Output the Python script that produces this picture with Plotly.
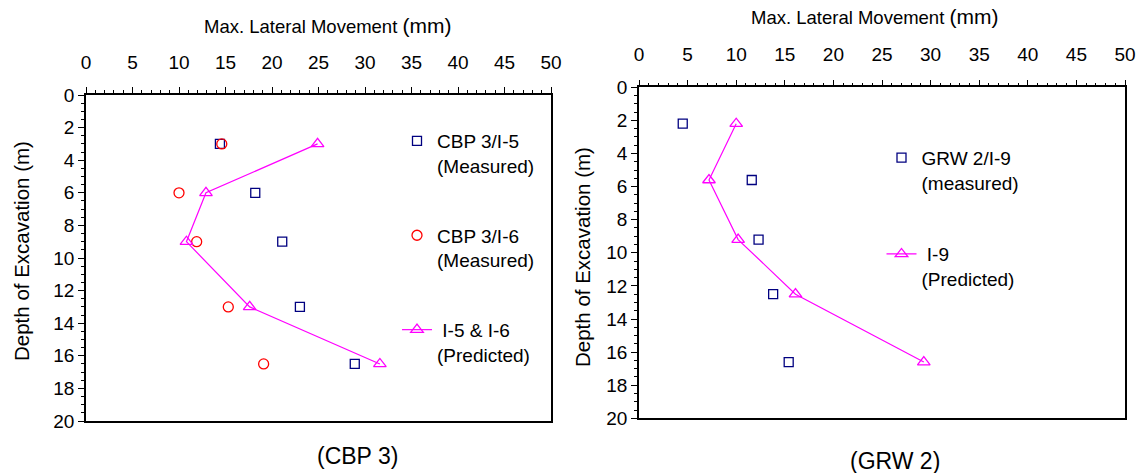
import plotly.graph_objects as go

# ---------------- data ----------------
# CBP 3 (left panel)
cbp_i5_x = [14.4, 18.2, 21.1, 23.0, 28.9]
cbp_i5_y = [3.0, 6.0, 9.0, 13.0, 16.5]
cbp_i6_x = [14.6, 10.0, 11.9, 15.3, 19.1]
cbp_i6_y = [3.0, 6.0, 9.0, 13.0, 16.5]
cbp_pred_x = [24.9, 12.9, 10.8, 17.6, 31.6]
cbp_pred_y = [3.0, 6.0, 9.0, 13.0, 16.5]

# GRW 2 (right panel)
grw_meas_x = [4.5, 11.6, 12.3, 13.8, 15.4]
grw_meas_y = [2.2, 5.6, 9.2, 12.5, 16.6]
grw_pred_x = [10.0, 7.2, 10.2, 16.1, 29.3]
grw_pred_y = [2.2, 5.6, 9.2, 12.5, 16.6]

# labels
x_title = 'Max. Lateral Movement <span style="font-size:21px">(mm)</span>'
y_title = 'Depth of Excavation (m)'
panel_labels = ['(CBP 3)', '(GRW 2)']

# ---------------- styling ----------------
FONT = 'Liberation Sans, Arial, sans-serif'
W, H = 1145, 473
BLUE = '#000080'
RED = '#FF0000'
MAG = '#FF00FF'

def px_x(p):
    return p / W

def px_y(p):
    return 1 - p / H

fig = go.Figure()

sq = dict(symbol='square-open', size=9, color=BLUE, line=dict(width=1.3, color=BLUE))
ci = dict(symbol='circle-open', size=10, color=RED, line=dict(width=1.3, color=RED))
tr = dict(symbol='triangle-up-open', size=11, color=MAG, line=dict(width=1.3, color=MAG))

fig.add_trace(go.Scatter(x=cbp_i5_x, y=cbp_i5_y, mode='markers', marker=sq,
                         name='CBP 3/I-5<br>(Measured)', legend='legend', legendgroup='a',
                         xaxis='x', yaxis='y'))
fig.add_trace(go.Scatter(x=cbp_i6_x, y=cbp_i6_y, mode='markers', marker=ci,
                         name='CBP 3/I-6<br>(Measured)', legend='legend', legendgroup='b',
                         xaxis='x', yaxis='y'))
fig.add_trace(go.Scatter(x=cbp_pred_x, y=cbp_pred_y, mode='lines+markers', marker=tr,
                         line=dict(color=MAG, width=1.2),
                         name='&nbsp;I-5 &amp; I-6<br>(Predicted)', legend='legend', legendgroup='c',
                         xaxis='x', yaxis='y'))

fig.add_trace(go.Scatter(x=grw_meas_x, y=grw_meas_y, mode='markers', marker=sq,
                         name='GRW 2/I-9<br>(measured)', legend='legend2', legendgroup='d',
                         xaxis='x2', yaxis='y2'))
fig.add_trace(go.Scatter(x=grw_pred_x, y=grw_pred_y, mode='lines+markers', marker=tr,
                         line=dict(color=MAG, width=1.2),
                         name='&nbsp;I-9<br>(Predicted)', legend='legend2', legendgroup='e',
                         xaxis='x2', yaxis='y2'))

tickfont = dict(family=FONT, size=19, color='black')

def xax(domain, anchor):
    return dict(domain=domain, anchor=anchor, side='top', range=[0, 50], automargin=False,
                dtick=5, tick0=0, ticks='outside', ticklen=6, tickwidth=1.3, tickcolor='black',
                minor=dict(dtick=1, ticks='outside', ticklen=3, tickwidth=1, tickcolor='black'),
                showline=True, linecolor='black', linewidth=1.6, mirror=True,
                showgrid=False, zeroline=False, tickfont=tickfont, ticklabelstandoff=11,
                fixedrange=True)

def yax(domain, anchor):
    return dict(domain=domain, anchor=anchor, range=[20, 0], automargin=False,
                dtick=2, tick0=0, ticks='outside', ticklen=6, tickwidth=1.3, tickcolor='black',
                minor=dict(dtick=0.5, ticks='outside', ticklen=3, tickwidth=1, tickcolor='black'),
                showline=True, linecolor='black', linewidth=1.6, mirror=True,
                showgrid=False, zeroline=False, tickfont=tickfont, fixedrange=True)

legfont = dict(family=FONT, size=19, color='black')

fig.update_layout(
    template='none',
    width=W, height=H, autosize=False,
    margin=dict(l=0, r=0, t=0, b=0, pad=0, autoexpand=False),
    paper_bgcolor='white', plot_bgcolor='white',
    showlegend=True,
    xaxis=xax([px_x(86), px_x(551)], 'y'),
    yaxis=yax([px_y(421), px_y(95)], 'x'),
    xaxis2=xax([px_x(639), px_x(1125)], 'y2'),
    yaxis2=yax([px_y(418.3), px_y(87.3)], 'x2'),
    legend=dict(x=px_x(397), y=px_y(122), xanchor='left', yanchor='top',
                font=legfont, bgcolor='rgba(0,0,0,0)', borderwidth=0, valign='top',
                tracegroupgap=42, traceorder='grouped', itemwidth=30),
    legend2=dict(x=px_x(881.5), y=px_y(138.7), xanchor='left', yanchor='top',
                 font=legfont, bgcolor='rgba(0,0,0,0)', borderwidth=0, valign='top',
                 tracegroupgap=44, traceorder='grouped', itemwidth=30),
)

ann_font = dict(family=FONT, size=18.5, color='black')
fig.add_annotation(text=x_title, x=px_x(327), y=px_y(25), xref='paper', yref='paper',
                   showarrow=False, font=ann_font, xanchor='center', yanchor='middle')
fig.add_annotation(text=x_title, x=px_x(874), y=px_y(17), xref='paper', yref='paper',
                   showarrow=False, font=ann_font, xanchor='center', yanchor='middle')
ytf = dict(family=FONT, size=20.5, color='black')
fig.add_annotation(text=y_title, x=px_x(21), y=px_y(251), xref='paper', yref='paper',
                   showarrow=False, font=ytf, textangle=-90, xanchor='center', yanchor='middle')
fig.add_annotation(text=y_title, x=px_x(582), y=px_y(257), xref='paper', yref='paper',
                   showarrow=False, font=ytf, textangle=-90, xanchor='center', yanchor='middle')
pf = dict(family=FONT, size=23, color='black')
fig.add_annotation(text=panel_labels[0], x=px_x(357), y=px_y(456), xref='paper', yref='paper',
                   showarrow=False, font=pf, xanchor='center', yanchor='middle')
fig.add_annotation(text=panel_labels[1], x=px_x(895), y=px_y(461), xref='paper', yref='paper',
                   showarrow=False, font=pf, xanchor='center', yanchor='middle')

fig.write_html('out.html')
